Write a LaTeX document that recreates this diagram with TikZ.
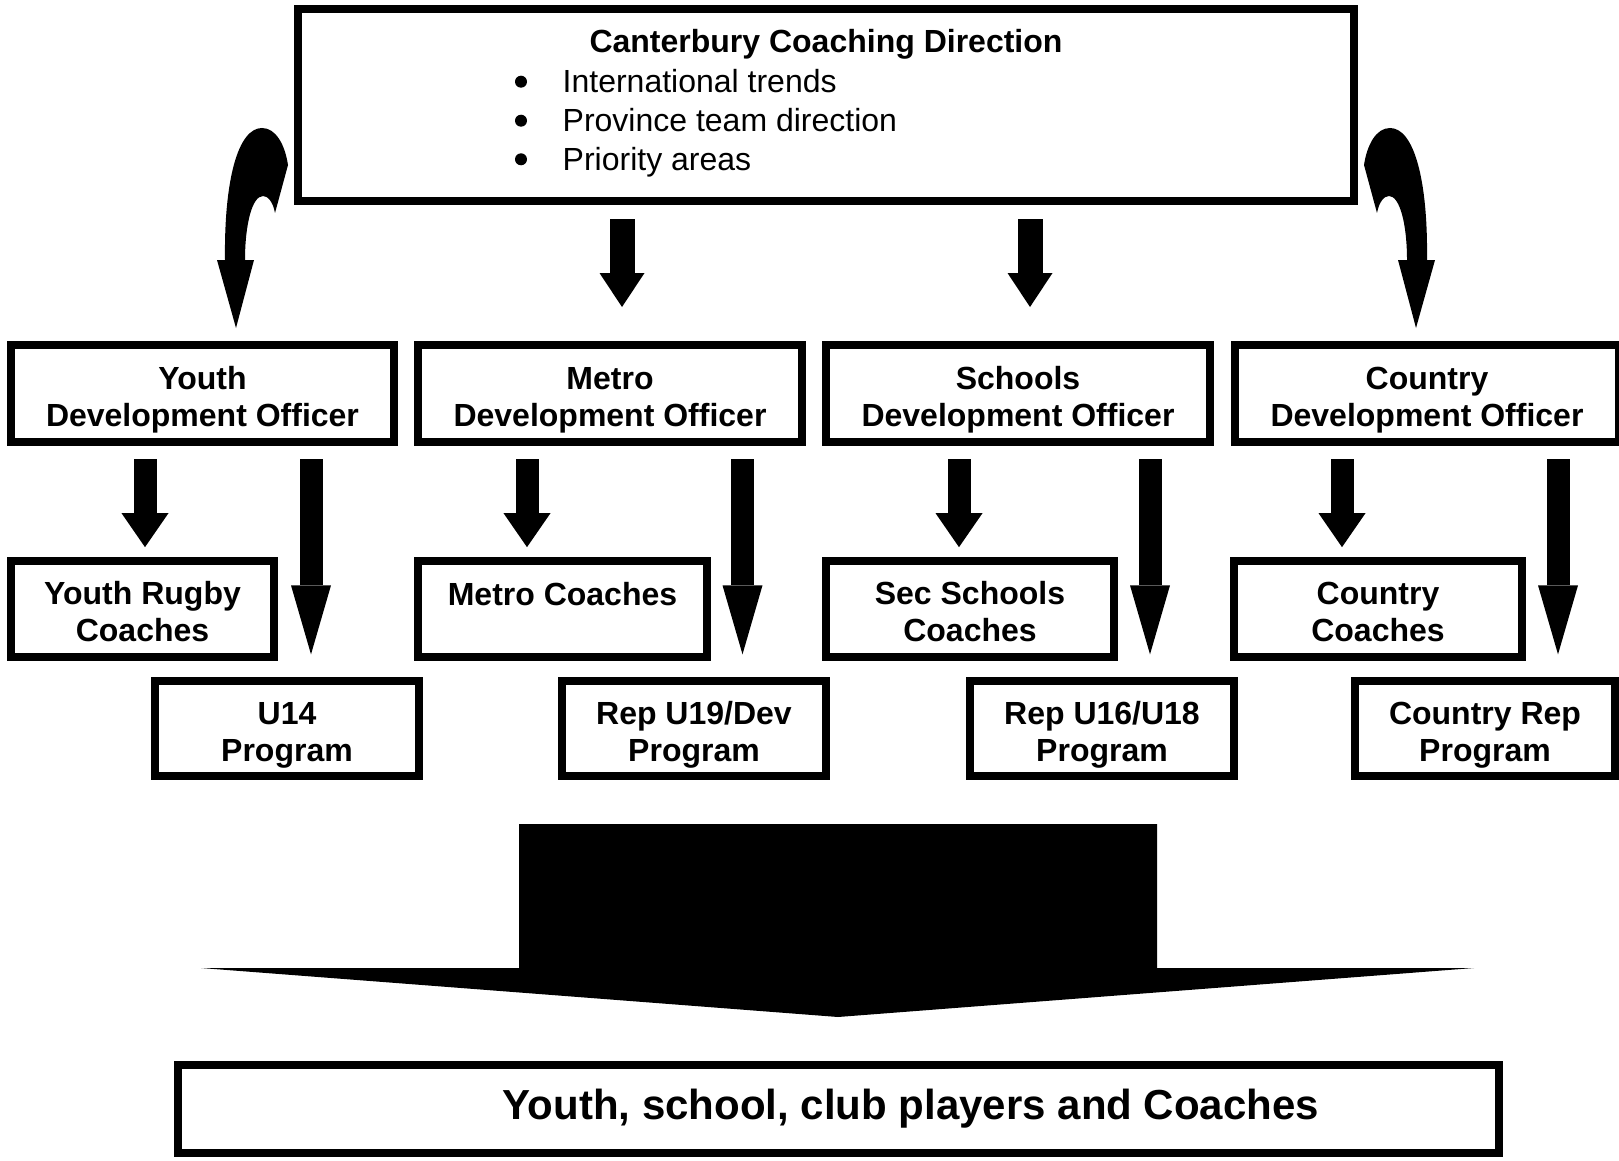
\documentclass[tikz,border=0pt]{standalone}
\usepackage{fontspec}
\setmainfont{Liberation Sans}
\usetikzlibrary{arrows.meta, calc}

% room above the first line of a box
\newcommand{\topgap}[1]{\rule{0pt}{#1}}

\begin{document}
\begin{tikzpicture}[x=1pt, y=-1pt,
    box/.style={draw, line width=8pt, inner sep=0pt,
      align=center, font=\fontsize{32}{37}\selectfont\bfseries},
    item/.style={anchor=base west, inner sep=0pt, font=\fontsize{32}{37}\selectfont},
    toparr/.style={line width=25pt, -{Triangle[width=45pt, length=34pt, line width=0pt]},
      shorten <=14pt, shorten >=34pt},
    smallarr/.style={line width=23pt, -{Triangle[width=47pt, length=34pt, line width=0pt]},
      shorten <=13pt, shorten >=10pt},
    longarr/.style={line width=23pt, -{Triangle[width=40pt, length=69pt, line width=0pt]},
      shorten <=13pt, shorten >=23pt}]

  \useasboundingbox (0,0) rectangle (1619,1161);

  % coaching direction
  \node[box, minimum width=1056pt, minimum height=192pt] (direction) at (826,105) {};
  \node[font=\fontsize{32}{37}\selectfont\bfseries] (title) at (826,44) {Canterbury Coaching Direction};
  \node[item] (trends) at (562.5,92.5) {International trends};
  \node[item] (province) at (562.5,131.5) {Province team direction};
  \node[item] (priority) at (562.5,170.5) {Priority areas};

  % bullets
  \fill (521,81.7) circle (6pt);
  \fill (521,120.7) circle (6pt);
  \fill (521,159.3) circle (6pt);

  % development officers
  \node[box, minimum width=383.6pt, minimum height=97pt] (youthdev) at (202.5,393.5) {\topgap{35pt}Youth\\Development Officer};
  \node[box, minimum width=383.6pt, minimum height=97pt] (metrodev) at (610,393.5) {\topgap{35pt}Metro\\Development Officer};
  \node[box, minimum width=383.6pt, minimum height=97pt] (schooldev) at (1018,393.5) {\topgap{35pt}Schools\\Development Officer};
  \node[box, minimum width=383.6pt, minimum height=97pt] (countrydev) at (1427,393.5) {\topgap{35pt}Country\\Development Officer};

  % coaches
  \node[box, minimum width=263.6pt, minimum height=95.7pt] (youthcoach) at (142.5,609) {\topgap{29pt}Youth Rugby\\Coaches};
  \node[box, minimum width=288.4pt, minimum height=95.7pt] (metrocoach) at (562.5,609) {\topgap{29pt}Metro Coaches\\\mbox{}};
  \node[box, minimum width=288.4pt, minimum height=95.7pt] (schoolcoach) at (970,609) {\topgap{29pt}Sec Schools\\Coaches};
  \node[box, minimum width=288.4pt, minimum height=95.7pt] (countrycoach) at (1378,609) {\topgap{29pt}Country\\Coaches};

  % programs
  \node[box, minimum width=264pt, minimum height=94.7pt] (u14prog) at (287,728.7) {\topgap{35pt}U14\\Program};
  \node[box, minimum width=264pt, minimum height=94.7pt] (u19prog) at (694,728.7) {\topgap{35pt}Rep U19/Dev\\Program};
  \node[box, minimum width=264pt, minimum height=94.7pt] (u16prog) at (1102,728.7) {\topgap{35pt}Rep U16/U18\\Program};
  \node[box, minimum width=260pt, minimum height=94.7pt] (repprog) at (1485,728.7) {\topgap{35pt}Country Rep\\Program};

  % players
  \node[box, minimum width=1321pt, minimum height=88pt] (players) at (838.5,1109) {};
  \node[font=\fontsize{42}{48}\selectfont\bfseries] (playerstext) at (911,1109) {Youth, school, club players and Coaches};

  % straight arrows from direction
  \draw[toparr] (622,0 |- direction.south) -- (622,0 |- metrodev.north);
  \draw[toparr] (1030,0 |- direction.south) -- (1030,0 |- schooldev.north);

  % bent arrows from direction
  \fill (225,260) .. controls (224,180) and (238,128) .. (262,128)
    .. controls (276,128) and (285,145) .. (288,165)
    -- (275,213)
    .. controls (273,202) and (268,196) .. (263,196)
    .. controls (252,196) and (245,225) .. (245,260)
    -- (254,260) -- (236,328) -- (217,260) -- cycle;
  \begin{scope}[xshift=1652pt, xscale=-1]
    \fill (225,260) .. controls (224,180) and (238,128) .. (262,128)
      .. controls (276,128) and (285,145) .. (288,165)
      -- (275,213)
      .. controls (273,202) and (268,196) .. (263,196)
      .. controls (252,196) and (245,225) .. (245,260)
      -- (254,260) -- (236,328) -- (217,260) -- cycle;
  \end{scope}

  % officers to coaches
  \draw[smallarr] (145,0 |- youthdev.south) -- (145,0 |- youthcoach.north);
  \draw[smallarr] (527,0 |- metrodev.south) -- (527,0 |- metrocoach.north);
  \draw[smallarr] (959,0 |- schooldev.south) -- (959,0 |- schoolcoach.north);
  \draw[smallarr] (1342,0 |- countrydev.south) -- (1342,0 |- countrycoach.north);

  % officers to programs
  \draw[longarr] (311,0 |- youthdev.south) -- (311,0 |- u14prog.north);
  \draw[longarr] (742.5,0 |- metrodev.south) -- (742.5,0 |- u19prog.north);
  \draw[longarr] (1150,0 |- schooldev.south) -- (1150,0 |- u16prog.north);
  \draw[longarr] (1558,0 |- countrydev.south) -- (1558,0 |- repprog.north);

  % big arrow down to players
  \fill (519,824) -- (1157,824) -- (1157,968) -- (1474,968)
    -- (838,1017) -- (201,968) -- (519,968) -- cycle;

\end{tikzpicture}
\end{document}
